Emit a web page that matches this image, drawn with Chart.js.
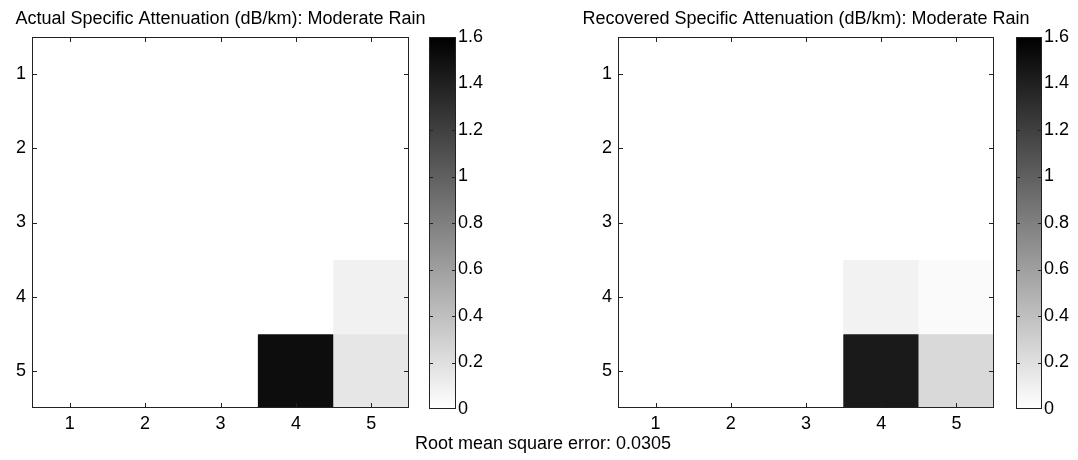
<!DOCTYPE html>
<html>
<head>
<meta charset="utf-8">
<script src="https://cdn.jsdelivr.net/npm/chart.js@4"></script>
<style>
  body { margin:0; background:#fff; }
  #wrap { position:relative; width:1078px; height:460px; font-family:"Liberation Sans", Arial, sans-serif; }
  #wrap canvas { position:absolute; left:0; top:0; }
  #rmse { position:absolute; left:343px; top:433px; width:400px; text-align:center; font-size:18px; line-height:20px; color:#000; }
</style>
</head>
<body>
<div id="wrap">
  <canvas id="actual" width="1078" height="460"></canvas>
  <canvas id="actualBar" width="1078" height="460"></canvas>
  <canvas id="recovered" width="1078" height="460"></canvas>
  <canvas id="recoveredBar" width="1078" height="460"></canvas>
  <div id="rmse">Root mean square error: 0.0305</div>
</div>
<script>
// grid cells, row 1 at top (dB/km)
const colLabels = ['1','2','3','4','5'];
const rowLabels = [1,2,3,4,5];
const actualAtten = [
  [0,0,0,0,0],
  [0,0,0,0,0],
  [0,0,0,0,0],
  [0,0,0,0,0.09],
  [0,0,0,1.52,0.16]
];
const recoveredAtten = [
  [0,0,0,0,0],
  [0,0,0,0,0],
  [0,0,0,0,0],
  [0,0,0,0.08,0.03],
  [0,0,0,1.44,0.24]
];
const climMax = 1.6;
const cbarTicks = [0,0.2,0.4,0.6,0.8,1,1.2,1.4,1.6];

const FONT = {family:'"Liberation Sans", Arial, sans-serif', size:18};
const W = 1078;

function grayOf(v){
  var g = Math.round(255*(1 - Math.min(v/climMax,1)));
  return 'rgb('+g+','+g+','+g+')';
}

// box around the axes with inward ticks, matlab style
const boxTicks = {
  id:'boxTicks',
  afterDraw(chart, args, opts){
    const ctx = chart.ctx, a = chart.chartArea;
    const len = opts.len || 5;
    ctx.save();
    ctx.strokeStyle = '#222';
    ctx.lineWidth = 1;
    ctx.beginPath();
    if (opts.xTicks) {
      const x = chart.scales.x;
      x.ticks.forEach(function(t,i){
        const px = Math.round(x.getPixelForTick(i)) + 0.5;
        ctx.moveTo(px, a.bottom); ctx.lineTo(px, a.bottom-len);
        ctx.moveTo(px, a.top); ctx.lineTo(px, a.top+len);
      });
    }
    const y = chart.scales.y;
    y.ticks.forEach(function(t,i){
      const py = Math.round(y.getPixelForTick(i)) + 0.5;
      if (opts.skipEnds && (i==0 || i==y.ticks.length-1)) return;
      ctx.moveTo(a.left, py); ctx.lineTo(a.left+len, py);
      ctx.moveTo(a.right, py); ctx.lineTo(a.right-len, py);
    });
    ctx.stroke();
    ctx.strokeRect(a.left+0.5, a.top+0.5, a.width-1, a.height-1);
    ctx.restore();
  }
};

const panelTitle = {
  id:'panelTitle',
  afterDraw(chart, args, opts){
    if (!opts.text) return;
    const ctx = chart.ctx, a = chart.chartArea;
    ctx.save();
    ctx.font = FONT.size+'px '+FONT.family;
    ctx.fillStyle = '#000';
    ctx.textAlign = 'center';
    ctx.textBaseline = 'middle';
    ctx.fillText(opts.text, (a.left+a.right)/2, a.top-18);
    ctx.restore();
  }
};

function heatmap(id, grid, title, left, right){
  const datasets = grid.map(function(row, r){
    const y = rowLabels[r];
    return {
      data: row.map(function(){ return [y-0.5, y+0.5]; }),
      backgroundColor: row.map(grayOf),
      borderWidth: 0,
      grouped: false,
      barPercentage: 1,
      categoryPercentage: 1
    };
  });
  return new Chart(document.getElementById(id), {
    type:'bar',
    data:{ labels: colLabels, datasets: datasets },
    options:{
      responsive:false,
      animation:false,
      layout:{ padding:{ left:left-32, right:W-right, top:37, bottom:0 } },
      plugins:{ legend:{display:false}, tooltip:{enabled:false}, panelTitle:{text:title}, boxTicks:{xTicks:true, len:5} },
      scales:{
        x:{
          grid:{display:false, drawTicks:false}, border:{display:false},
          ticks:{color:'#000', font:FONT, padding:5},
          afterFit: function(s){ s.height = 52; }
        },
        y:{
          min:0.5, max:5.5, reverse:true,
          grid:{display:false, drawTicks:false}, border:{display:false},
          ticks:{color:'#000', font:FONT, padding:6},
          afterBuildTicks: function(s){ s.ticks = rowLabels.map(function(v){ return {value:v}; }); },
          afterFit: function(s){ s.width = 32; }
        }
      }
    },
    plugins:[boxTicks, panelTitle]
  });
}

function colorbar(id, left, right){
  return new Chart(document.getElementById(id), {
    type:'bar',
    data:{
      labels:[''],
      datasets:[{
        data:[[0, climMax]],
        borderWidth:0,
        barPercentage:1,
        categoryPercentage:1,
        backgroundColor: function(c){
          const a = c.chart.chartArea;
          if (!a) return '#888';
          const g = c.chart.ctx.createLinearGradient(0, a.bottom, 0, a.top);
          g.addColorStop(0, '#fff');
          g.addColorStop(1, '#000');
          return g;
        }
      }]
    },
    options:{
      responsive:false,
      animation:false,
      layout:{ padding:{ left:left, right:W-right-40, top:37, bottom:51 } },
      plugins:{ legend:{display:false}, tooltip:{enabled:false}, boxTicks:{xTicks:false, len:4, skipEnds:true} },
      scales:{
        x:{ display:false },
        y:{
          position:'right', min:0, max:climMax,
          grid:{display:false, drawTicks:false}, border:{display:false},
          ticks:{color:'#000', font:FONT, padding:2, callback: function(v){ return String(Math.round(v*10)/10); }},
          afterBuildTicks: function(s){ s.ticks = cbarTicks.map(function(v){ return {value:v}; }); },
          afterFit: function(s){ s.width = 40; }
        }
      }
    },
    plugins:[boxTicks]
  });
}

heatmap('actual', actualAtten, 'Actual Specific Attenuation (dB/km): Moderate Rain', 32, 409);
colorbar('actualBar', 429, 456);
heatmap('recovered', recoveredAtten, 'Recovered Specific Attenuation (dB/km): Moderate Rain', 618, 994);
colorbar('recoveredBar', 1016, 1042);
</script>
</body>
</html>
